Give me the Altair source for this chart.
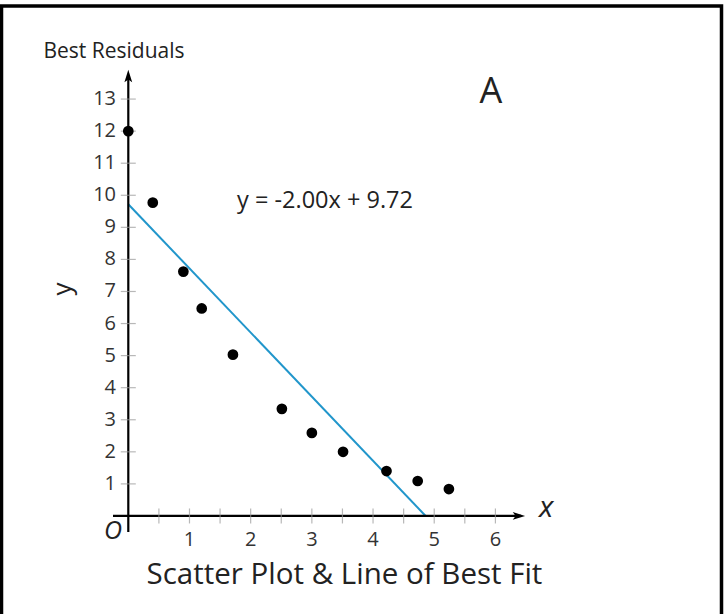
import altair as alt
import pandas as pd

# ---- data ----
pts_x = [0.0, 0.40, 0.90, 1.20, 1.71, 2.51, 3.00, 3.51, 4.22, 4.73, 5.24]
pts_y = [12.0, 9.77, 7.62, 6.47, 5.03, 3.34, 2.59, 2.00, 1.40, 1.09, 0.84]
slope = -2.00
intercept = 9.72
x_ticks = [0.5, 1.0, 1.5, 2.0, 2.5, 3.0, 3.5, 4.0, 4.5, 5.0, 5.5, 6.0]
x_labels = [1, 2, 3, 4, 5, 6]
y_ticks = list(range(1, 14))

FONT = "Open Sans"
TXT = "#222222"

xs = alt.Scale(domain=[-0.25, 6.5], nice=False, zero=False)
ys = alt.Scale(domain=[-0.5, 14.0], nice=False, zero=False)


def X(f="x"):
    return alt.X(f"{f}:Q", scale=xs, axis=None)


def Y(f="y"):
    return alt.Y(f"{f}:Q", scale=ys, axis=None)


points_df = pd.DataFrame({"x": pts_x, "y": pts_y})
x_end = -intercept / slope
line_df = pd.DataFrame({"x": [0.0, x_end], "y": [intercept, intercept + slope * x_end]})

# frame around the picture
frame = alt.Chart(pd.DataFrame({"a": [0]})).mark_rect(
    fill=None, stroke="black", strokeWidth=3.5, clip=False
).encode(x=alt.value(-111.5), x2=alt.value(608.5), y=alt.value(-61), y2=alt.value(570))

# axis lines
xaxis = alt.Chart(pd.DataFrame({"x": [-0.25], "x2": [6.42], "y": [0.0]})).mark_rule(
    color="black", strokeWidth=2.2, clip=False
).encode(x=X(), x2="x2:Q", y=Y())
yaxis = alt.Chart(pd.DataFrame({"x": [0.0], "y": [-0.5], "y2": [13.75]})).mark_rule(
    color="black", strokeWidth=2.2, clip=False
).encode(x=X(), y=Y(), y2="y2:Q")

arrow_up = alt.Chart(pd.DataFrame({"x": [0.0], "y": [13.69]})).mark_point(
    shape="M0,-1L0.55,0.75L0,0.35L-0.55,0.75Z", filled=True, color="black",
    size=200, opacity=1, clip=False
).encode(x=X(), y=Y())
arrow_right = alt.Chart(pd.DataFrame({"x": [6.37], "y": [0.0]})).mark_point(
    shape="M1,0L-0.75,0.55L-0.35,0L-0.75,-0.55Z", filled=True, color="black",
    size=200, opacity=1, clip=False
).encode(x=X(), y=Y())

# ticks
xt = alt.Chart(pd.DataFrame({"x": x_ticks, "y": [0.0] * len(x_ticks)})).mark_tick(
    orient="vertical", size=15, thickness=1.2, color="#9a9a9a", clip=False
).encode(x=X(), y=Y())
yt = alt.Chart(pd.DataFrame({"x": [0.0] * len(y_ticks), "y": y_ticks})).mark_tick(
    orient="horizontal", size=15, thickness=1.2, color="#9a9a9a", clip=False
).encode(x=X(), y=Y())

xl = alt.Chart(pd.DataFrame({"x": x_labels, "y": [-0.95] * len(x_labels),
                             "t": [str(v) for v in x_labels]})).mark_text(
    font=FONT, fontSize=20, color="#333333", align="center", baseline="alphabetic", clip=False
).encode(x=X(), y=Y(), text="t:N")
yl = alt.Chart(pd.DataFrame({"x": [-0.20] * len(y_ticks), "y": y_ticks,
                             "t": [str(v) for v in y_ticks]})).mark_text(
    font=FONT, fontSize=20, color="#333333", align="right", baseline="middle", clip=False
).encode(x=X(), y=Y(), text="t:N")

fit = alt.Chart(line_df).mark_line(color="#2196cb", strokeWidth=2, clip=False).encode(x=X(), y=Y())
dots = alt.Chart(points_df).mark_circle(color="black", size=115, opacity=1, clip=False).encode(x=X(), y=Y())


def label(text, x, y, size, align="center", baseline="alphabetic", angle=0, style="normal", font=FONT):
    kw = dict(font=font, fontSize=size, color=TXT, align=align, baseline=baseline,
              fontStyle=style, clip=False)
    if angle:
        kw["angle"] = angle
    return alt.Chart(pd.DataFrame({"x": [x], "y": [y], "t": [text]})).mark_text(**kw).encode(
        x=X(), y=Y(), text="t:N")


texts = [
    label("Best Residuals", -0.234, 14.28, 21),
    label("A", 5.925, 12.88, 36),
    label("y = -2.00x + 9.72", 3.215, 9.60, 23.5),
    label("y", -1.067, 7.08, 26, baseline="middle", angle=270),
    label("x", 6.83, -0.03, 30, style="italic"),
    label("O", -0.25, -0.47, 25, baseline="middle", style="italic"),
    label("Scatter Plot & Line of Best Fit", 3.533, -2.136, 29.5),
]

chart = alt.layer(frame, fit, xaxis, yaxis, arrow_up, arrow_right, xt, yt, xl, yl, dots, *texts).properties(
    width=413, height=465,
    autosize=alt.AutoSizeParams(type="none"),
    padding={"left": 113, "top": 67, "right": 200, "bottom": 82},
    background="white",
).configure_view(stroke=None)

chart.save("out.html", embed_options={"renderer": "svg", "actions": False})
